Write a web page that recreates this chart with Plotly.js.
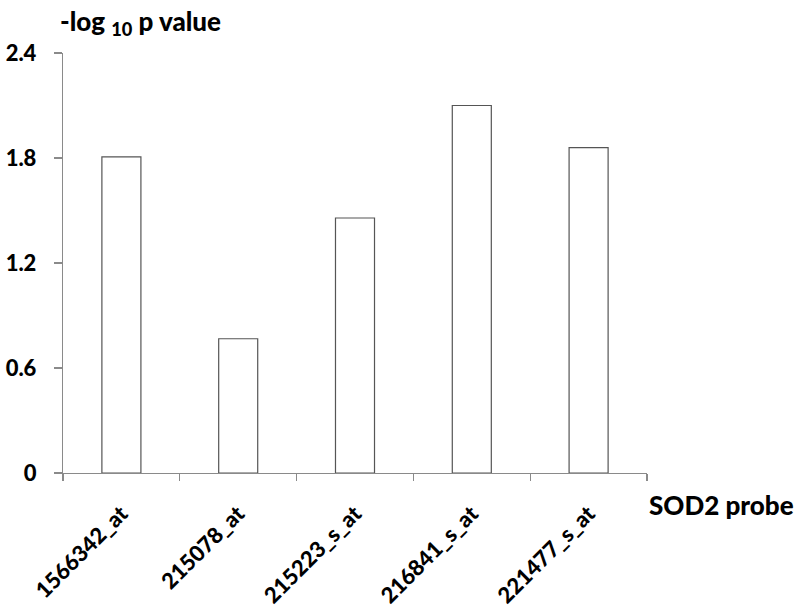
<!DOCTYPE html>
<html>
<head>
<meta charset="utf-8">
<script src="https://cdn.plot.ly/plotly-3.0.1.min.js"></script>
<style>html,body{margin:0;padding:0;background:#fff;}#chart{width:800px;height:612px;}</style>
</head>
<body>
<div id="chart"></div>
<script>
var probes = ["1566342_at", "215078_at", "215223_s_at", "216841_s_at", "221477_s_at"];
var negLogP = [1.807, 0.767, 1.457, 2.10, 1.859];
var yTicks = [0, 0.6, 1.2, 1.8, 2.4];
var yTickText = ["0", "0.6", "1.2", "1.8", "2.4"];

var fontFam = "Lato, 'Open Sans', sans-serif";

var trace = {
  type: "bar",
  x: probes,
  y: negLogP,
  marker: {color: "#ffffff", line: {color: "#555555", width: 1.2}},
  hoverinfo: "x+y"
};

var layout = {
  width: 800, height: 612,
  margin: {l: 63, r: 153, t: 53, b: 139},
  paper_bgcolor: "#fff", plot_bgcolor: "#fff",
  showlegend: false,
  bargap: 0.666,
  xaxis: {
    type: "category",
    showline: true, linecolor: "#8a8a8a", linewidth: 1.2,
    ticks: "outside", ticklen: 7, tickcolor: "#8a8a8a", tickwidth: 1.2,
    tickson: "boundaries",
    tickangle: -45,
    ticklabelstandoff: 18,
    tickfont: {family: fontFam, size: 22, color: "#000", weight: 900},
    showgrid: false, zeroline: false
  },
  yaxis: {
    range: [0, 2.4],
    tickvals: yTicks, ticktext: yTickText,
    showline: true, linecolor: "#8a8a8a", linewidth: 1.2,
    ticks: "outside", ticklen: 8, tickcolor: "#8a8a8a", tickwidth: 1.2,
    ticklabelstandoff: 13,
    tickfont: {family: fontFam, size: 22, color: "#000", weight: 900},
    showgrid: false, zeroline: false
  },
  annotations: [
    {text: "-log <sub>10</sub> p value", xref: "paper", yref: "paper",
     x: -0.009, y: 1.0, yshift: 31, xanchor: "left", yanchor: "middle", showarrow: false,
     font: {family: fontFam, size: 26, color: "#000", weight: 900}},
    {text: "SOD2 probe", xref: "paper", yref: "paper",
     x: 1.0, y: 0, xshift: 0, yshift: -32, xanchor: "left", yanchor: "middle", showarrow: false,
     font: {family: fontFam, size: 26, color: "#000", weight: 900}}
  ]
};

Plotly.newPlot("chart", [trace], layout, {displayModeBar: false, staticPlot: true});
</script>
</body>
</html>
